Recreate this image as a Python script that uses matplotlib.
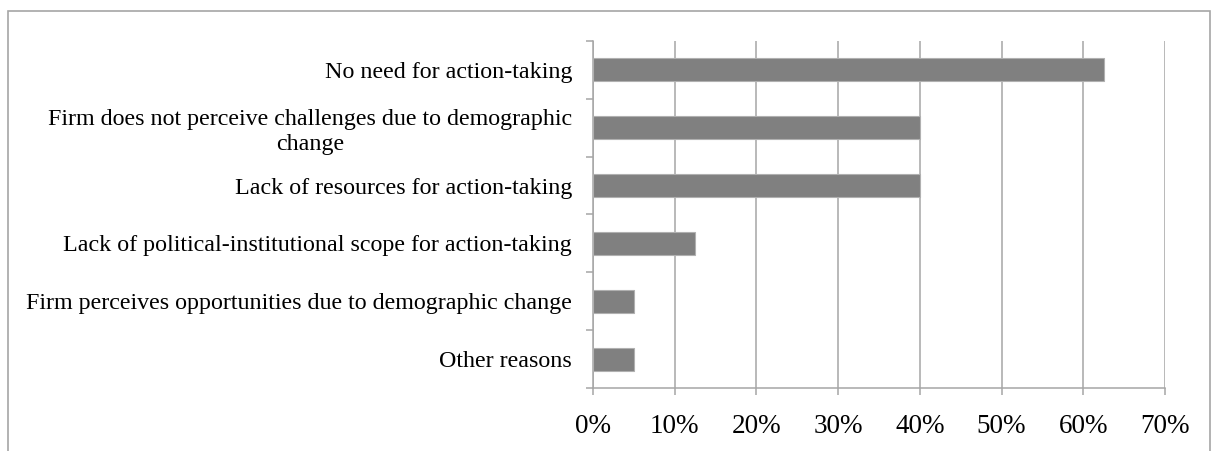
import matplotlib
matplotlib.use("Agg")
import matplotlib.pyplot as plt
from matplotlib.patches import Rectangle
from matplotlib.ticker import FuncFormatter, MultipleLocator

# Data
categories = [
    "No need for action-taking",
    "Firm does not perceive challenges due to demographic\nchange",
    "Lack of resources for action-taking",
    "Lack of political-institutional scope for action-taking",
    "Firm perceives opportunities due to demographic change",
    "Other reasons",
]
shares = [62.5, 40.0, 40.0, 12.5, 5.0, 5.0]

plt.rcParams["font.family"] = ["Liberation Serif", "DejaVu Serif"]

fig = plt.figure(figsize=(12.19, 4.51), dpi=100)
ax = fig.add_axes([0.4865, 0.1397, 0.4692, 0.7694])

# frame around the chart area (bottom edge runs off the image)
fig.patches.append(Rectangle((8 / 1219, -0.2), 1202 / 1219, 1.2 - 11 / 451,
                             transform=fig.transFigure, fill=False,
                             edgecolor="#a6a6a6", linewidth=1.2))

pos = list(range(len(categories)))[::-1]
ax.barh(pos, shares, height=0.4, color="#808080", edgecolor="#b0b0b0",
        linewidth=0.8, zorder=3)

ax.set_xlim(0, 70)
ax.set_ylim(-0.5, len(categories) - 0.5)
ax.xaxis.set_major_locator(MultipleLocator(10))
ax.xaxis.set_major_formatter(FuncFormatter(lambda v, p: "%d%%" % v))
ax.grid(axis="x", color="#a6a6a6", linewidth=1.1, zorder=0)

ax.set_yticks(pos)
ax.set_yticklabels(categories, fontsize=17.3, ha="right", multialignment="center",
                   linespacing=1.25)
ax.set_yticks([p - 0.5 for p in range(len(categories) + 1)], minor=True)
ax.tick_params(axis="y", which="major", length=0, pad=15)
ax.tick_params(axis="y", which="minor", length=5, color="#a6a6a6", width=1.1)
ax.tick_params(axis="x", length=5, color="#a6a6a6", width=1.1, labelsize=19.5, pad=14)

for side in ["top", "right"]:
    ax.spines[side].set_visible(False)
for side in ["left", "bottom"]:
    ax.spines[side].set_color("#a6a6a6")
    ax.spines[side].set_linewidth(1.1)

fig.savefig("out.png", dpi=100)
